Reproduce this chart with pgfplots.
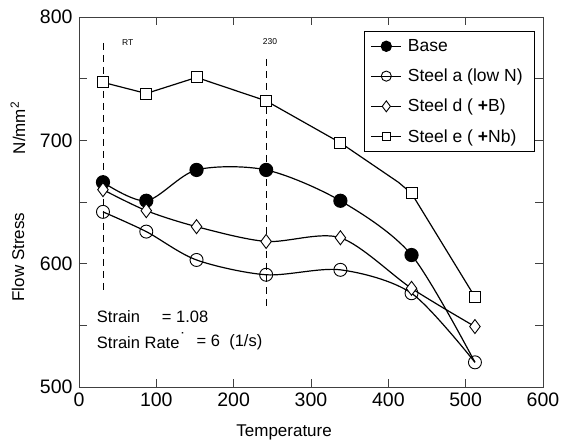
\documentclass[border=0pt]{standalone}
\usepackage{pgfplots}
\pgfplotsset{compat=1.18}
\usepackage{fontspec}
\setmainfont{Liberation Sans}
\begin{document}
\begin{tikzpicture}
\begin{axis}[
 scale only axis, width=464pt, height=370pt,
 xmin=0, xmax=600, ymin=500, ymax=800,
 xtick={0,100,...,600}, ytick={500,600,700,800}, minor ytick={550,650,750},
 tick align=inside, major tick length=8pt, minor tick length=8pt,
 axis line style={black!75, line width=0.9pt},
 every tick/.style={black!75, line width=0.9pt},
 ticklabel style={font=\fontsize{19.5}{22}\selectfont},
 yticklabel style={xshift=-3pt},
 xticklabel style={yshift=-2pt},
 /pgf/number format/assume math mode=true,
 clip=false,
 legend style={at={(0.983,0.962)}, anchor=north east, draw=black, line width=0.9pt,
   font=\fontsize{17.5}{20}\selectfont, row sep=12pt, inner xsep=6pt, inner ysep=6pt,
   nodes={inner xsep=6pt}},
 legend cell align=left,
 legend image code/.code={%
   \draw[#1, mark=none] (0pt,0pt) -- (30pt,0pt);
   \draw[#1, only marks, every mark/.append style={scale=0.78}] plot coordinates {(15pt,0pt)};},
]
% dashed reference lines
\addplot[black, line width=0.9pt, dash pattern=on 7pt off 5pt, forget plot] coordinates {(31,779) (31,579)};
\addplot[black, line width=0.9pt, dash pattern=on 7pt off 5pt, forget plot] coordinates {(242,766) (242,565)};
% Base
\addplot[black, line width=1.2pt, smooth, tension=0.5, mark=*, mark size=6.5pt, mark indices={1,2,3,4,5,6}, mark options={fill=black, solid}]
 coordinates {(31,666) (87,651) (152,676) (242,676) (338,651) (430,607) (512,520)};
\addlegendentry{Base}
% Steel a
\addplot[black, line width=1.2pt, smooth, tension=0.5, mark=o, mark size=6.5pt, mark options={fill=white, solid, line width=0.9pt}]
 coordinates {(31,642) (87,626) (152,603) (242,591) (338,595) (430,576) (512,520)};
\addlegendentry{Steel a (low N)}
% Steel d
\addplot[black, line width=1.2pt, smooth, tension=0.5, mark=diamond*, mark size=7pt, mark options={fill=white, solid, line width=0.9pt}]
 coordinates {(31,660) (87,643) (152,630) (242,618) (338,621) (430,580) (512,549)};
\addlegendentry{Steel d ( \textbf{+}B)}
% Steel e
\addplot[black, line width=1.2pt, mark=square*, mark size=5.5pt, mark indices={1,2,3,4,5,7,8}, mark options={fill=white, solid, line width=0.9pt}]
 coordinates {(31,747) (87,738) (152,751) (242,732) (338,698) (413,666) (430,657) (512,573)};
\addlegendentry{Steel e ( \textbf{+}Nb)}
% annotations
\node[font=\fontsize{8.5}{10}\selectfont] at (axis cs:63,779) {RT};
\node[font=\fontsize{8.5}{10}\selectfont] at (axis cs:247,780) {230};
\node[anchor=west, inner sep=0pt, font=\fontsize{16.5}{19}\selectfont] at (axis cs:23,557) {Strain};
\node[anchor=west, inner sep=0pt, font=\fontsize{16.5}{19}\selectfont] at (axis cs:107,557) {= 1.08};
\node[anchor=west, inner sep=0pt, font=\fontsize{16.5}{19}\selectfont] at (axis cs:23,536) {Strain Rate};
\node[anchor=west, inner sep=0pt, font=\fontsize{16.5}{19}\selectfont] at (axis cs:131,539) {˙};
\node[anchor=west, inner sep=0pt, font=\fontsize{16.5}{19}\selectfont] at (axis cs:152,536) {= 6 \ (1/s)};
% axis labels
\node[font=\fontsize{17}{20}\selectfont] at (rel axis cs:0.442,-0.1216) {Temperature};
\node[rotate=90, font=\fontsize{17}{20}\selectfont] at (rel axis cs:-0.1315,0.351) {Flow Stress};
\node[rotate=90, font=\fontsize{17}{20}\selectfont] at (rel axis cs:-0.1315,0.70) {N/mm\textsuperscript{2}};
\end{axis}
\pgfresetboundingbox
\path (-79pt,-54pt) rectangle (483pt,387pt);
\end{tikzpicture}
\end{document}
